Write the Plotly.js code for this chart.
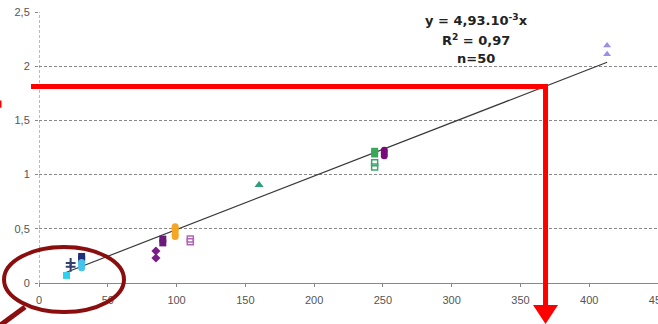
<!DOCTYPE html>
<html><head><meta charset="utf-8">
<script src="https://cdn.plot.ly/plotly-3.0.1.min.js"></script>
<style>html,body{margin:0;padding:0;background:#fff}#c{width:658px;height:324px}</style>
</head><body><div id="c"></div>
<script>
// Data series (x, y)
const cyanSqX = [20], cyanSqY = [0.07];
const navyCrossX = [23, 23], navyCrossY = [0.185, 0.15];
const navySqX = [31, 31], navySqY = [0.245, 0.22];
const lightBlueX = [31, 31, 31], lightBlueY = [0.19, 0.165, 0.14];
const purpleDiaX = [85, 85], purpleDiaY = [0.295, 0.23];
const purpleSqX = [90, 90], purpleSqY = [0.405, 0.37];
const orangeX = [99, 99, 99, 99, 99], orangeY = [0.52, 0.5, 0.48, 0.45, 0.43];
const mauveX = [110, 110], mauveY = [0.405, 0.38];
const tealTriX = [160], tealTriY = [0.905];
const greenSqX = [244, 244], greenSqY = [1.215, 1.19];
const greenOpenX = [244, 244], greenOpenY = [1.11, 1.07];
const purpleCircX = [251, 251, 251], purpleCircY = [1.225, 1.2, 1.175];
const lavTriX = [413, 413], lavTriY = [2.19, 2.11];
const slope = 4.93e-3;
const fitX = [20, 413];
const fitY = fitX.map(v => v * slope);
const eqLines = ['y = 4,93.10<sup>-3</sup>x', 'R<sup>2</sup> = 0,97', 'n=50'];
const eqY = [2.425, 2.245, 2.075];

function pts(x, y, symbol, color, size, open) {
  return {x, y, type: 'scatter', mode: 'markers', hoverinfo: 'skip',
    marker: {symbol, size, color: open ? 'rgba(0,0,0,0)' : color,
      line: {color, width: open ? 1.5 : 0}}};
}
const traces = [
  {x: fitX, y: fitY, type: 'scatter', mode: 'lines', line: {color: '#3a3a3a', width: 1.2}},
  pts(cyanSqX, cyanSqY, 'square', '#2fd0f0', 7),
  {x: navyCrossX, y: navyCrossY, type: 'scatter', mode: 'markers',
    marker: {symbol: 'cross-thin-open', size: 7, color: '#34406e', line: {color: '#34406e', width: 2}}},
  pts(navySqX, navySqY, 'square', '#1f2f78', 7),
  pts(lightBlueX, lightBlueY, 'circle', '#45c3ea', 7),
  pts(purpleDiaX, purpleDiaY, 'diamond', '#7a1d8a', 7),
  pts(purpleSqX, purpleSqY, 'square', '#6b1a7c', 7),
  pts(orangeX, orangeY, 'circle', '#f5a623', 7),
  pts(mauveX, mauveY, 'square', '#b065b5', 6, true),
  pts(tealTriX, tealTriY, 'triangle-up', '#2e9e7e', 8),
  pts(greenSqX, greenSqY, 'square', '#3aa65a', 7),
  pts(greenOpenX, greenOpenY, 'square', '#3aa66e', 6, true),
  pts(purpleCircX, purpleCircY, 'circle', '#7a0a7c', 7),
  pts(lavTriX, lavTriY, 'triangle-up', '#9c8fe6', 7)
];
const red = '#ff0000', dred = '#8b0e0e';
const shapes = [
  {type: 'line', xref: 'x', yref: 'paper', x0: 0, x1: 0, y0: 0, y1: 1, line: {color: '#777', width: 1, dash: '3px,2px'}, layer: 'below'},
  {type: 'circle', xref: 'paper', yref: 'paper', x0: -0.0565, x1: 0.1373, y0: -0.107, y1: 0.1328, line: {color: dred, width: 4}},
  {type: 'line', xref: 'paper', yref: 'paper', x0: -0.0226, y0: -0.0886, x1: -0.065, y1: -0.16, line: {color: dred, width: 5}},
  {type: 'line', xref: 'paper', yref: 'paper', x0: -0.0129, x1: 0.8223, y0: 0.725, y1: 0.725, line: {color: red, width: 5}},
  {type: 'line', xref: 'paper', yref: 'paper', x0: 0.8183, x1: 0.8183, y0: 0.734, y1: -0.085, line: {color: red, width: 5}},
  {type: 'path', xref: 'paper', yref: 'paper', path: 'M0.7981,-0.0812 L0.8384,-0.0812 L0.8183,-0.1513 Z', fillcolor: red, line: {color: red, width: 0}},
  {type: 'line', xref: 'paper', yref: 'paper', x0: -0.063, x1: -0.063, y0: 0.673, y1: 0.647, line: {color: red, width: 3}}
];
const annotations = eqLines.map((t, i) => ({
  text: t, x: 318, y: eqY[i], xref: 'x', yref: 'y', showarrow: false,
  xanchor: 'center', yanchor: 'middle',
  font: {family: 'DejaVu Sans', size: 13, color: '#222', weight: 'bold'}
}));
const layout = {
  width: 658, height: 324, margin: {l: 39, r: 0, t: 12, b: 41},
  paper_bgcolor: '#fff', plot_bgcolor: '#fff', showlegend: false,
  separators: ', ',
  font: {family: 'Liberation Sans, Arial', size: 11, color: '#555'},
  xaxis: {range: [0, 450], tickvals: [0, 50, 100, 150, 200, 250, 300, 350, 400, 450],
    showgrid: false, zeroline: false, showline: true, linecolor: '#888', linewidth: 1,
    ticks: 'outside', ticklen: 3, tickcolor: '#888', fixedrange: true,
    ticklabeloverflow: 'allow', ticklabelstandoff: 4},
  yaxis: {range: [0, 2.5], tickvals: [0, 0.5, 1, 1.5, 2, 2.5],
    showgrid: true, gridcolor: '#888', griddash: '3px,2px', gridwidth: 1,
    zeroline: false, showline: false, ticks: 'outside', ticklen: 3, tickcolor: '#888', fixedrange: true,
    ticklabelstandoff: 3},
  shapes, annotations
};
Plotly.newPlot('c', traces, layout, {displayModeBar: false, staticPlot: true});
</script></body></html>
